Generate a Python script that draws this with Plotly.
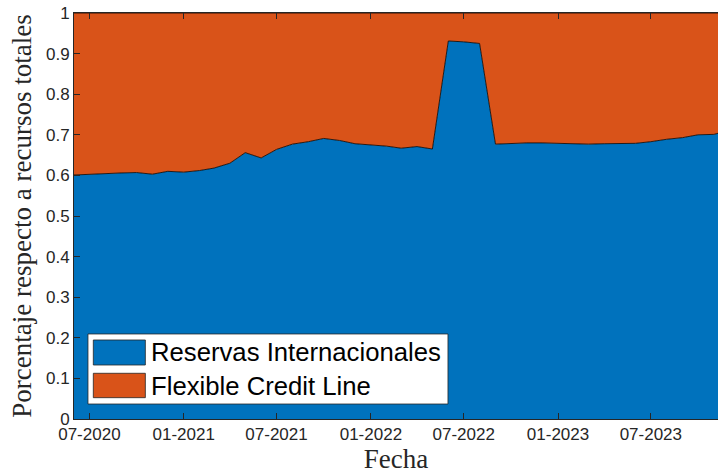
import plotly.graph_objects as go

# Monthly dates (first of month)
fechas = ["2020-06-01", "2020-07-01", "2020-08-01", "2020-09-01", "2020-10-01", "2020-11-01", "2020-12-01",
          "2021-01-01", "2021-02-01", "2021-03-01", "2021-04-01", "2021-05-01", "2021-06-01",
          "2021-07-01", "2021-08-01", "2021-09-01", "2021-10-01", "2021-11-01", "2021-12-01",
          "2022-01-01", "2022-02-01", "2022-03-01", "2022-04-01", "2022-05-01", "2022-06-01",
          "2022-07-01", "2022-08-01", "2022-09-01", "2022-10-01", "2022-11-01", "2022-12-01",
          "2023-01-01", "2023-02-01", "2023-03-01", "2023-04-01", "2023-05-01", "2023-06-01",
          "2023-07-01", "2023-08-01", "2023-09-01", "2023-10-01", "2023-11-01", "2023-12-01"]

reservas = [0.601, 0.603, 0.605, 0.606, 0.607, 0.603, 0.610,
            0.608, 0.612, 0.618, 0.630, 0.656, 0.643,
            0.664, 0.677, 0.683, 0.691, 0.686, 0.678,
            0.675, 0.672, 0.667, 0.671, 0.665, 0.931,
            0.929, 0.925, 0.677, 0.679, 0.680, 0.680,
            0.679, 0.678, 0.677, 0.678, 0.679, 0.679,
            0.683, 0.689, 0.693, 0.700, 0.701, 0.711]

fcl = [0.399, 0.397, 0.395, 0.394, 0.393, 0.397, 0.390,
       0.392, 0.388, 0.382, 0.370, 0.344, 0.357,
       0.336, 0.323, 0.317, 0.309, 0.314, 0.322,
       0.325, 0.328, 0.333, 0.329, 0.335, 0.069,
       0.071, 0.075, 0.323, 0.321, 0.320, 0.320,
       0.321, 0.322, 0.323, 0.322, 0.321, 0.321,
       0.317, 0.311, 0.307, 0.300, 0.299, 0.289]

tick_vals = ["2020-07-01", "2021-01-01", "2021-07-01", "2022-01-01", "2022-07-01", "2023-01-01", "2023-07-01"]
tick_text = ["07-2020", "01-2021", "07-2021", "01-2022", "07-2022", "01-2023", "07-2023"]
y_ticks = [0, 0.1, 0.2, 0.3, 0.4, 0.5, 0.6, 0.7, 0.8, 0.9, 1]
y_text = ["0", "0.1", "0.2", "0.3", "0.4", "0.5", "0.6", "0.7", "0.8", "0.9", "1"]

BLUE = "#0072BD"
ORANGE = "#D95319"
AX = "#262626"

fig = go.Figure()
fig.add_trace(go.Scatter(x=fechas, y=reservas, name="Reservas Internacionales", stackgroup="one",
                         mode="lines", line=dict(color="black", width=0.8), fillcolor=BLUE))
fig.add_trace(go.Scatter(x=fechas, y=fcl, name="Flexible Credit Line", stackgroup="one",
                         mode="lines", line=dict(color="black", width=0.8), fillcolor=ORANGE))

# Legend drawn manually (MATLAB style)
shapes = [
    dict(type="rect", xref="paper", yref="paper", x0=0.0217, x1=0.5807, y0=0.0369, y1=0.2094,
         fillcolor="white", line=dict(color=AX, width=0.8), layer="above"),
    dict(type="rect", xref="paper", yref="paper", x0=0.0300, x1=0.1108, y0=0.133, y1=0.1946,
         fillcolor=BLUE, line=dict(color=AX, width=0.8), layer="above"),
    dict(type="rect", xref="paper", yref="paper", x0=0.0300, x1=0.1108, y0=0.0525, y1=0.1126,
         fillcolor=ORANGE, line=dict(color=AX, width=0.8), layer="above"),
]
annotations = [
    dict(xref="paper", yref="paper", x=0.116, y=0.1638, xanchor="left", yanchor="middle",
         text="Reservas Internacionales", showarrow=False,
         font=dict(family="Liberation Sans, Arial", size=25.7, color="black")),
    dict(xref="paper", yref="paper", x=0.116, y=0.0825, xanchor="left", yanchor="middle",
         text="Flexible Credit Line", showarrow=False,
         font=dict(family="Liberation Sans, Arial", size=25.7, color="black")),
]

fig.update_layout(
    width=718, height=474,
    margin=dict(l=74, r=0, t=13, b=55),
    paper_bgcolor="white", plot_bgcolor="white",
    showlegend=False, hovermode=False,
    shapes=shapes, annotations=annotations,
    xaxis=dict(range=["2020-06-01", "2023-11-09"], tickvals=tick_vals, ticktext=tick_text,
               ticks="inside", ticklen=6, tickcolor=AX, tickwidth=1,
               showline=True, linecolor=AX, linewidth=1, mirror="ticks",
               showgrid=False, zeroline=False,
               tickfont=dict(family="Liberation Sans, Arial", size=17, color=AX),
               title=dict(text="Fecha", standoff=7,
                          font=dict(family="Liberation Serif, Times New Roman", size=27, color=AX))),
    yaxis=dict(range=[0, 1], tickvals=y_ticks, ticktext=y_text,
               ticks="inside", ticklen=6, tickcolor=AX, tickwidth=1,
               showline=True, linecolor=AX, linewidth=1, mirror=False,
               showgrid=False, zeroline=False,
               tickfont=dict(family="Liberation Sans, Arial", size=17, color=AX),
               title=dict(text="Porcentaje respecto a recursos totales", standoff=6,
                          font=dict(family="Liberation Serif, Times New Roman", size=27, color=AX))),
)

fig.write_html("out.html", config={"displayModeBar": False, "staticPlot": True},
               post_script="document.body.style.margin='0';document.body.style.overflow='hidden';")
